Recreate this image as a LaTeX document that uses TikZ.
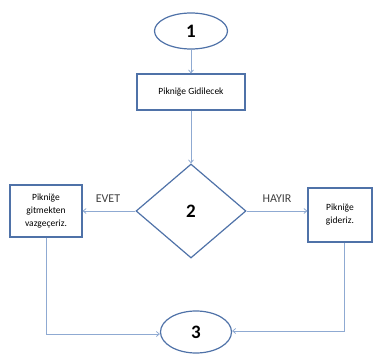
\documentclass[tikz,border=0pt]{standalone}
\usepackage{fontspec}
\setmainfont{Carlito}
\usetikzlibrary{shapes.geometric,arrows.meta}
\definecolor{edge}{HTML}{4F72A8}
\definecolor{conn}{HTML}{8FAAD2}
\begin{document}
\begin{tikzpicture}[x=1pt,y=-1pt,
  term/.style={ellipse,draw=edge,line width=1.2pt,minimum width=#1,inner sep=0pt,font=\bfseries\fontsize{19}{20}\selectfont},
  procbox/.style={rectangle,draw=edge,line width=1.1pt,align=center,inner sep=0pt,font=\fontsize{9.5}{13}\selectfont},
  conn/.style={draw=conn,line width=0.8pt,-{Straight Barb[length=3pt,width=5pt]}},
  lbl/.style={font=\fontsize{12}{13}\selectfont,text=black!75}]
\useasboundingbox (0,0) rectangle (376,356);
\node[term=73pt,minimum height=36pt] (t1) at (191,31) {1};
\node[procbox,minimum width=108pt,minimum height=36pt] (p) at (191,92) {Pikniğe Gidilecek};
\node[diamond,draw=edge,line width=1.2pt,minimum width=110pt,minimum height=94pt,inner sep=0pt,aspect=1.17,font=\bfseries\fontsize{19}{20}\selectfont] (d) at (191,211) {2};
\node[procbox,minimum width=72pt,minimum height=52pt] (l) at (46,211) {Pikniğe\\gitmekten\\vazgeçeriz.};
\node[procbox,minimum width=64pt,minimum height=54pt] (r) at (340,215) {Pikniğe\\gideriz.};
\node[term=71pt,minimum height=42pt] (t3) at (196,332) {3};
\node[lbl] at (108,199) {EVET};
\node[lbl] at (277,199) {HAYIR};
\draw[conn] (t1) -- (p);
\draw[conn] (p) -- (d.north);
\draw[conn] (d.west) -- (d.west -| l.east);
\draw[conn] (d.east) -- (d.east -| r.west);
\coordinate (lc) at (46,334);
\coordinate (rc) at (344,331);
\draw[conn] (l.south) -- (lc) -- (lc -| t3.west);
\draw[conn] (r.south -| rc) -- (rc) -- (rc -| t3.east);
\end{tikzpicture}
\end{document}
